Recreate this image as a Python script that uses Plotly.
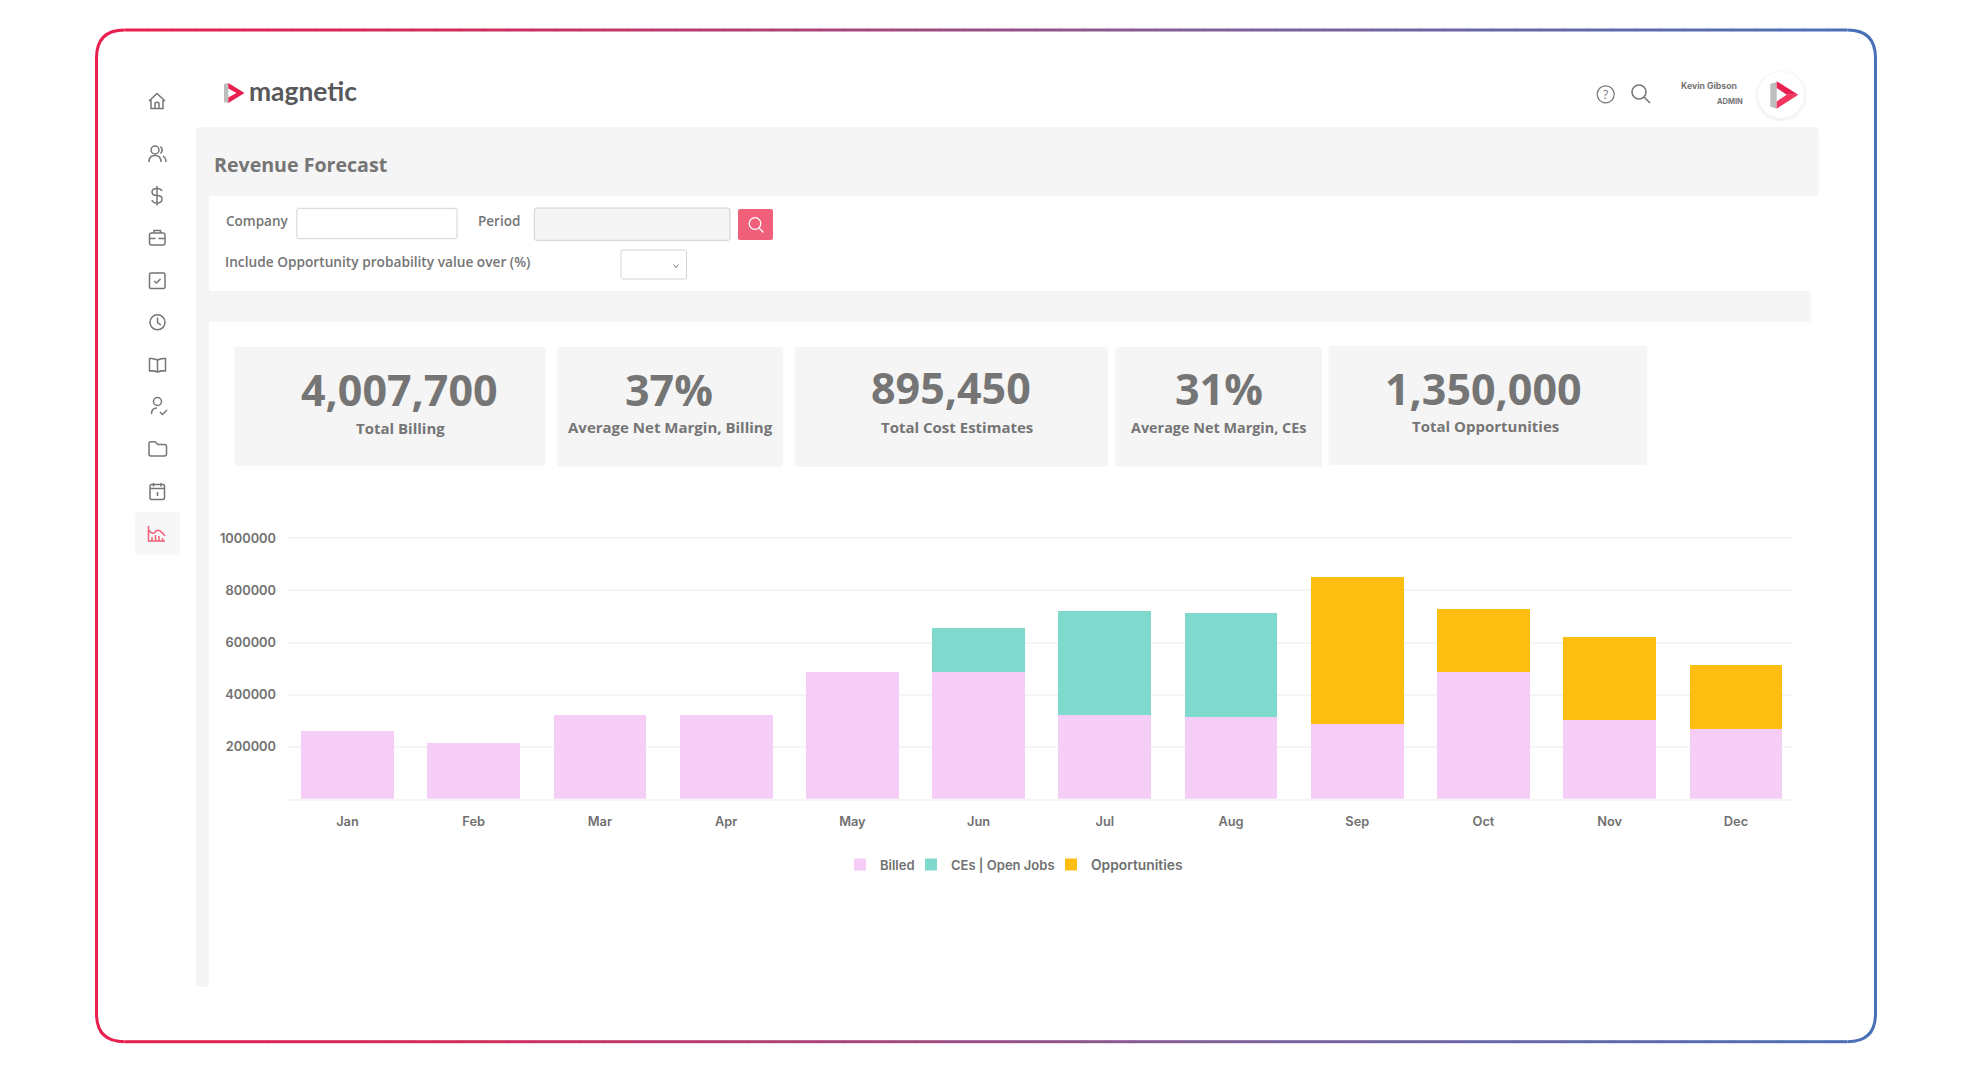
import numpy as np
import plotly.graph_objects as go

MONTHS = ['Jan', 'Feb', 'Mar', 'Apr', 'May', 'Jun', 'Jul', 'Aug', 'Sep', 'Oct', 'Nov', 'Dec']
BILLED = [258600, 212500, 322700, 322700, 485300, 487800, 322700, 315000, 285500, 487800, 300900, 266300]
CES = [0, 0, 0, 0, 0, 167800, 399500, 398000, 0, 0, 0, 0]
OPPORTUNITIES = [0, 0, 0, 0, 0, 0, 0, 0, 564700, 239500, 319000, 247200]
Y_TICKS = [200000, 400000, 600000, 800000, 1000000]

CARD_VALUES = ['4,007,700', '37%', '895,450', '31%', '1,350,000']
CARD_LABELS = ['Total Billing', 'Average Net Margin, Billing', 'Total Cost Estimates',
               'Average Net Margin, CEs', 'Total Opportunities']

GREY = '#757575'
PANEL = '#f5f5f5'
PINK = '#f5cdf7'
TEAL = '#7fd9cc'
AMBER = '#fdbe12'
SANS = 'Open Sans'
GEO = 'Inter'

shapes = []
notes = []


def path(d, fill=None, color=None, width=1.5, layer='above'):
    s = dict(type='path', path=d, xref='x2', yref='y2', layer=layer,
             line=dict(color=color or 'rgba(0,0,0,0)', width=width if color else 0))
    if fill:
        s['fillcolor'] = fill
    shapes.append(s)


def rrect(x0, y0, x1, y1, r):
    return (f'M{x0+r},{y0} H{x1-r} Q{x1},{y0} {x1},{y0+r} V{y1-r} Q{x1},{y1} {x1-r},{y1} '
            f'H{x0+r} Q{x0},{y1} {x0},{y1-r} V{y0+r} Q{x0},{y0} {x0+r},{y0} Z')


def circ(cx, cy, r):
    k = 0.5523 * r
    return (f'M{cx-r},{cy} C{cx-r},{cy-k} {cx-k},{cy-r} {cx},{cy-r} C{cx+k},{cy-r} {cx+r},{cy-k} {cx+r},{cy} '
            f'C{cx+r},{cy+k} {cx+k},{cy+r} {cx},{cy+r} C{cx-k},{cy+r} {cx-r},{cy+k} {cx-r},{cy} Z')


def text(x, y, s, size, color=GREY, anchor='left', family=SANS, weight=600):
    # annotations carry a little padding, pull them back onto the measured spot
    nudge = {'left': -2, 'center': 0, 'right': 2}[anchor]
    notes.append(dict(x=x + nudge, y=y - 1.5, xref='x2', yref='y2', text=s, showarrow=False, xanchor=anchor,
                      yanchor='middle', align=anchor,
                      font=dict(size=size, color=color, family=family, weight=weight)))


# outer frame, red on the left fading to blue on the right
stops_x = [97, 500, 1200, 1876]
stops_rgb = np.array([[232, 32, 79], [204, 48, 96], [127, 96, 152], [74, 112, 184]])
L, T, R, B = 96.5, 30, 1875.5, 1041.7
for x0 in np.arange(L + 28, R - 28, 24):
    x1 = min(x0 + 24.5, R - 28)
    rgb = [int(np.interp(x0, stops_x, stops_rgb[:, i])) for i in range(3)]
    for y in (T, B):
        path(f'M{x0},{y} L{x1},{y}', color=f'rgb({rgb[0]},{rgb[1]},{rgb[2]})', width=3)
path(f'M{L+28},{T} Q{L},{T} {L},{T+28} V{B-28} Q{L},{B} {L+28},{B}', color='#e8204f', width=3)
path(f'M{R-28},{T} Q{R},{T} {R},{T+28} V{B-28} Q{R},{B} {R-28},{B}', color='#4a70b8', width=3)

# grey page panels
path(rrect(196, 127, 1819, 196, 5), fill=PANEL)
path(rrect(196, 190, 209, 987, 4), fill=PANEL)
path(rrect(196, 291, 1811, 322, 4), fill=PANEL)

# kpi cards
cards = [(234.4, 347, 545.6, 466), (557, 347, 783, 466.7), (795, 347, 1107.7, 467),
         (1115.3, 347, 1322, 466.7), (1328.5, 345.7, 1647.3, 465)]
value_pos = [(399.5, 391), (668.5, 391), (951.4, 389), (1219.4, 390), (1483.6, 390)]
label_pos = [(400.4, 429), (670, 428.5), (956.5, 428.5), (1218.5, 429), (1485.8, 427.5)]
label_size = [15, 15, 15, 14.4, 15]
for c, v, lab, vp, lp, ls in zip(cards, CARD_VALUES, CARD_LABELS, value_pos, label_pos, label_size):
    path(rrect(*c, 2), fill=PANEL)
    text(vp[0], vp[1], v, 43, anchor='center', weight=700)
    text(lp[0], lp[1], lab, ls, anchor='center', weight=700)

# top bar
path('M224,84 L228.3,83 V103 L224,102 Z', fill='#bdbdbd')
path('M228.3,83 L244.5,93 L228.3,103 V97.5 L236.5,93 L228.3,88.5 Z', fill='#e8204f')
text(249, 92, 'magnetic', 26.4, color='#58595b', family='Lato', weight=700)
path(circ(1605.7, 94.3, 8.5), color=GREY, width=1.2)
text(1605.7, 95.8, '?', 12, anchor='center', weight=400)
path(circ(1639, 92, 7), color=GREY, width=1.6)
path('M1644,97 L1650,103', color=GREY, width=1.6)
text(1680.5, 87, 'Kevin Gibson', 8.7, family=GEO, weight=700)
text(1743, 103.3, 'ADMIN', 7.5, anchor='right', family=GEO, weight=700)
for r, a in ((27, 0.008), (26, 0.01), (25, 0.012), (24, 0.015)):
    path(circ(1781, 96, r), fill=f'rgba(0,0,0,{a})')
path(circ(1781, 95, 23), fill='#ffffff')
path('M1770.3,84 L1776.7,82 V108.7 L1770.3,106.5 Z', fill='#bdbdbd')
path('M1776.7,81.3 L1798.3,94.7 H1786.7 L1776.7,88 Z', fill='#e8204f')
path('M1776.7,108.7 L1798.3,94.7 H1786.7 L1776.7,101.5 Z', fill='#f2355f')

# filter form
text(214, 165.5, 'Revenue Forecast', 19.6, weight=700)
text(226, 222.7, 'Company', 13.5)
text(477.6, 222.7, 'Period', 13.5)
text(225.4, 263.2, 'Include Opportunity probability value over (%)', 13.7)
path(rrect(296.8, 208.3, 457, 238.7, 2), fill='#ffffff', color='#d4d4d4', width=1)
path(rrect(534.3, 208, 730, 240.3, 2), fill=PANEL, color='#cfcfcf', width=1)
path(rrect(738, 209, 773, 240, 2), fill='#f0607a')
path(circ(755, 223.5, 5.8), color='#ffffff', width=1.3)
path('M759,228 L763.5,232.5', color='#ffffff', width=1.3)
path(rrect(621, 250, 686.5, 279, 2), fill='#ffffff', color='#d4d4d4', width=1)
path('M673.5,264.5 L676,267.5 L678.5,264.5', color=GREY, width=1)

# sidebar icons
path(rrect(135, 511.7, 180, 555, 4), fill='#f7f7f7')
for d in [
    'M149,101 L157,93.5 L165,101', 'M151,100 V108.5 H163 V100', 'M155,108.5 V103 Q157,101.5 159,103 V108.5',
    circ(155, 150, 4), 'M149,162 Q149,155.5 155,155.5 Q161,155.5 161,162',
    'M160.5,146.5 Q164,150 160.5,153.5', 'M163,156 Q166,158 166,162',
    'M162,191 Q161,188.5 157,188.5 Q152,188.5 152,192 Q152,195.5 157,195.5 Q162,195.5 162,199 Q162,203 157,203 Q152.5,203 152,200',
    'M157,186 V205.5',
    rrect(149.5, 233, 165, 245, 2), 'M154,233 V230.5 H160.5 V233', 'M149.5,238.5 H155.5', 'M158.5,238.5 H165',
    rrect(149.5, 273, 165, 288.5, 1.5), 'M154,281 L156.5,283 L160.5,279',
    circ(157.5, 322.3, 7.5), 'M157.5,317.5 V322.5 L161,325',
    'M157.5,360 Q154,358 149.5,358.5 V371 Q154,370.5 157.5,372 Q161,370.5 165.5,371 V358.5 Q161,358 157.5,360 Z',
    'M157.5,360 V372',
    circ(157.5, 401.5, 4), 'M151.5,414 Q151.5,408 157,408', 'M160,412 L162.5,414.5 L167,410',
    'M149,443.5 Q149,441.7 151,441.7 H155 L158,444.5 H164.5 Q166.5,444.5 166.5,446.5 V454 Q166.5,456 164.5,456 H151 Q149,456 149,454 Z',
    rrect(150, 484.5, 164.5, 499.5, 1.5), 'M150,488.5 H164.5', 'M153.5,483 V486.5', 'M161,483 V486.5', 'M157.5,492 V496',
]:
    path(d, color=GREY)
for d in ['M148.5,526 V541 H165', 'M148.5,530 Q153,536 156,531 Q159,528 165,536',
          'M152,541 V537', 'M155.5,541 V535', 'M159,541 V536', 'M162.5,541 V538']:
    path(d, color='#f0607a')

fig = go.Figure()
fig.add_trace(go.Bar(x=MONTHS, y=BILLED, name='Billed', legend='legend', showlegend=True,
                     marker=dict(color=PINK, line=dict(width=0))))
fig.add_trace(go.Bar(x=MONTHS, y=CES, name='CEs | Open Jobs', legend='legend2', showlegend=True,
                     marker=dict(color=TEAL, line=dict(width=0))))
fig.add_trace(go.Bar(x=MONTHS, y=OPPORTUNITIES, name='Opportunities', legend='legend3', showlegend=True,
                     marker=dict(color=AMBER, line=dict(width=0))))
# empty trace so the pixel overlay axes exist for the page furniture
fig.add_trace(go.Scatter(x=[], y=[], xaxis='x2', yaxis='y2', showlegend=False))

tick_font = dict(family=GEO, size=12.8, color='#707070', weight=600)


def legend_at(x, size=13):
    return dict(orientation='h', x=x / 1980, xanchor='left', y=1 - 864.5 / 1080, yanchor='middle',
                font=dict(tick_font, size=size), bgcolor='rgba(0,0,0,0)', itemclick=False, itemdoubleclick=False)


fig.update_layout(
    width=1980, height=1080,
    margin=dict(l=0, r=0, t=0, b=0, pad=0),
    paper_bgcolor='#ffffff', plot_bgcolor='rgba(0,0,0,0)',
    barmode='stack', bargap=0.265,
    shapes=shapes, annotations=notes,
    showlegend=True,
    xaxis=dict(domain=[287 / 1980, 1793 / 1980], range=[-0.479, 11.452], showgrid=False,
               showline=True, linecolor=PANEL, linewidth=2, ticks='', tickfont=tick_font,
               ticklabelstandoff=10, automargin=False),
    # range runs a touch past 1000000 so its grid line still gets drawn
    yaxis=dict(domain=[1 - 798.8 / 1080, 1 - 537 / 1080], range=[0, 1005000], tickvals=Y_TICKS,
               tickformat='d', gridcolor=PANEL, gridwidth=2, zeroline=False, ticks='', tickfont=tick_font,
               ticklabelstandoff=10, automargin=False),
    xaxis2=dict(domain=[0, 1], range=[0, 1980], visible=False, anchor='y2', fixedrange=True),
    yaxis2=dict(domain=[0, 1], range=[1080, 0], visible=False, anchor='x2', fixedrange=True),
    legend=legend_at(840),
    legend2=legend_at(911),
    legend3=legend_at(1051, 13.8),
    hovermode=False,
)

fig.write_html('out.html', config={'displayModeBar': False},
               post_script="document.body.style.margin='0';")
